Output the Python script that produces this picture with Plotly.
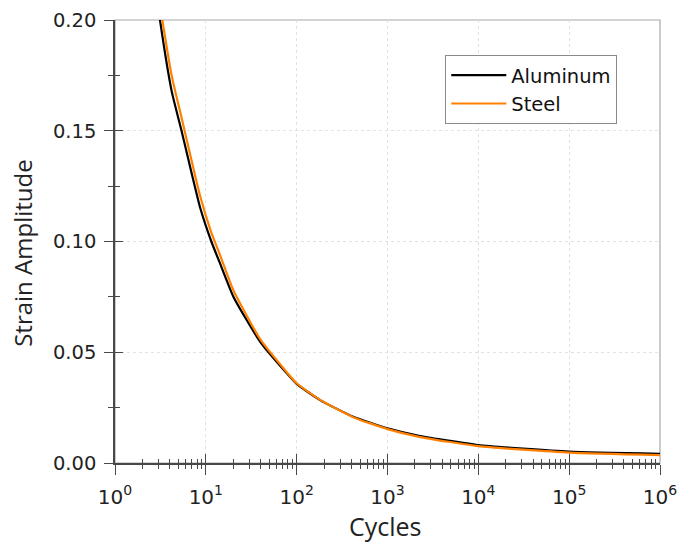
import plotly.graph_objects as go

# Strain-life data: cycles to failure vs. strain amplitude
al_cycles = [2, 3, 4.2, 5.4, 8.6, 11.5, 14.3, 20.1, 39.5, 77.8, 100, 181, 420, 1000, 2290, 1e4, 1e5, 1e6]
al_strain = [0.26, 0.205, 0.168, 0.150, 0.1157, 0.100, 0.0902, 0.0751, 0.0548, 0.0405, 0.0357, 0.0284, 0.0209, 0.0157, 0.0122, 0.0081, 0.0051, 0.0041]

st_cycles = [2, 3, 4.2, 5.4, 8.6, 11.5, 14.3, 20.1, 39.5, 77.8, 100, 181, 420, 1000, 2290, 1e4, 1e5, 1e6]
st_strain = [0.28, 0.212, 0.175, 0.156, 0.121, 0.104, 0.094, 0.078, 0.056, 0.041, 0.0360, 0.0285, 0.0207, 0.0153, 0.0117, 0.0076, 0.0047, 0.0036]

x_major = [1, 10, 100, 1000, 1e4, 1e5, 1e6]
x_labels = ["10<sup>%d</sup>" % k for k in range(7)]
x_minor = [m * 10 ** k for k in range(6) for m in range(2, 10)]

y_major = [0.0, 0.05, 0.10, 0.15, 0.20]
y_labels = ["0.00", "0.05", "0.10", "0.15", "0.20"]
y_minor = [0.025, 0.075, 0.125, 0.175]

x_title = "Cycles"
y_title = "Strain Amplitude"

AX = "#484848"
LABEL_FAMILY = "DejaVu Sans, Verdana, sans-serif"
TITLE_FAMILY = "Open Sans, Noto Sans, sans-serif"
GRID = dict(showgrid=True, gridcolor="#e2e2e2", griddash="dot", gridwidth=1)

fig = go.Figure()
fig.add_trace(go.Scatter(x=al_cycles, y=al_strain, mode="lines", name="Aluminum",
                         line=dict(color="#000000", width=2.2, shape="spline", smoothing=0.5)))
fig.add_trace(go.Scatter(x=st_cycles, y=st_strain, mode="lines", name="Steel",
                         line=dict(color="#ff8000", width=2.2, shape="spline", smoothing=0.5)))

# light frame on the top and right of the plot area
fig.add_shape(type="rect", xref="x domain", yref="y domain", x0=0, x1=1, y0=0, y1=1,
              line=dict(color="#a8a8a8", width=1.2), layer="below")

# axis titles
fig.add_annotation(text=x_title, xref="paper", yref="paper", x=0.497, y=-0.186,
                   xanchor="center", yanchor="bottom", showarrow=False,
                   font=dict(family=TITLE_FAMILY, size=25, color="#222"))
fig.add_annotation(text=y_title, xref="paper", yref="paper", x=-0.171, y=0.474,
                   xanchor="center", yanchor="middle", showarrow=False, textangle=-90,
                   font=dict(family=TITLE_FAMILY, size=24, color="#222"))

fig.update_layout(
    width=677, height=546,
    margin=dict(l=115, r=17, t=20, b=83),
    paper_bgcolor="white", plot_bgcolor="white",
    showlegend=True,
    legend=dict(x=0.606, y=0.921, xanchor="left", yanchor="top",
                bgcolor="white", bordercolor="#8a8a8a", borderwidth=1,
                itemwidth=55, tracegroupgap=0,
                font=dict(family=LABEL_FAMILY, size=19.5, color="#111")),
    xaxis=dict(type="log", range=[0, 6], tickmode="array", tickvals=x_major, ticktext=x_labels,
               ticks="outside", ticklen=10, tickwidth=1.3, tickcolor=AX,
               minor=dict(tickmode="array", tickvals=x_minor, ticks="outside", ticklen=4,
                          tickwidth=1.2, tickcolor=AX, showgrid=False),
               showline=True, linecolor=AX, linewidth=1.5, zeroline=False,
               automargin=False, ticklabelstandoff=5, ticklabeloverflow="allow",
               tickfont=dict(family=LABEL_FAMILY, size=20, color="#222"), **GRID),
    yaxis=dict(range=[0, 0.2], tickmode="array", tickvals=y_major, ticktext=y_labels,
               ticks="outside", ticklen=9, tickwidth=1.3, tickcolor=AX,
               minor=dict(tickmode="array", tickvals=y_minor, ticks="outside", ticklen=5,
                          tickwidth=1.2, tickcolor=AX, showgrid=False),
               showline=True, linecolor=AX, linewidth=1.5, zeroline=False,
               automargin=False, ticklabelstandoff=4, ticklabeloverflow="allow",
               tickfont=dict(family=LABEL_FAMILY, size=19.5, color="#222"), **GRID),
    # overlay axes carrying the inner halves of the crossing tick marks
    xaxis2=dict(type="log", range=[0, 6], overlaying="x", anchor="y", side="bottom",
                tickmode="array", tickvals=x_major, ticks="inside", ticklen=9,
                tickwidth=1.3, tickcolor=AX, showticklabels=False,
                minor=dict(tickmode="array", tickvals=x_minor, ticks="inside", ticklen=4,
                           tickwidth=1.2, tickcolor=AX, showgrid=False),
                showline=False, showgrid=False, zeroline=False, automargin=False),
    yaxis2=dict(range=[0, 0.2], overlaying="y", anchor="x", side="left",
                tickmode="array", tickvals=y_major, ticks="inside", ticklen=8,
                tickwidth=1.3, tickcolor=AX, showticklabels=False,
                minor=dict(tickmode="array", tickvals=y_minor, ticks="inside", ticklen=5,
                           tickwidth=1.2, tickcolor=AX, showgrid=False),
                showline=False, showgrid=False, zeroline=False, automargin=False),
)

# invisible helper trace so the overlay axes are drawn
fig.add_trace(go.Scatter(x=[al_cycles[-1]], y=[al_strain[-1]], xaxis="x2", yaxis="y2",
                         mode="markers", marker=dict(opacity=0), showlegend=False,
                         hoverinfo="skip"))

fig.write_html("out.html")
